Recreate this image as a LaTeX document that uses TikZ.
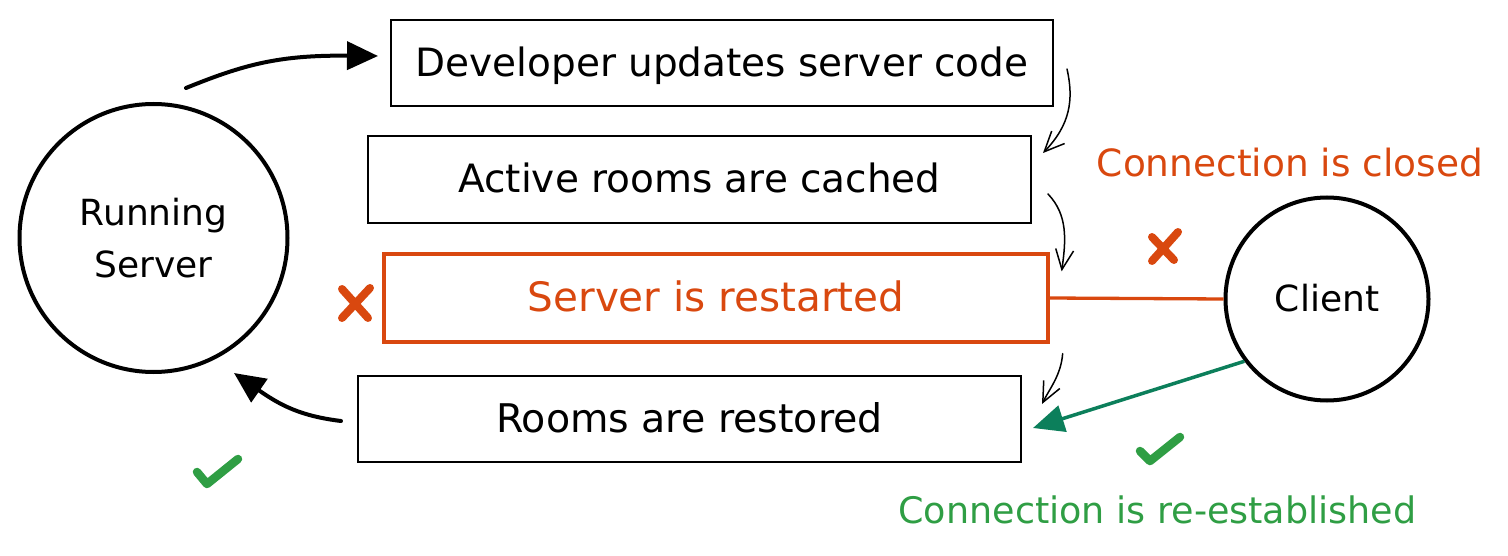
\documentclass[tikz,border=0pt]{standalone}
\usepackage{fontspec}
\setmainfont{DejaVu Sans}
\usetikzlibrary{arrows.meta,calc}
\definecolor{xorange}{HTML}{D9480F}
\definecolor{xgreen}{HTML}{2F9E44}
\definecolor{xteal}{HTML}{0C7F5B}
\newcommand{\fsz}[1]{\fontsize{#1}{52}\selectfont}
\begin{document}
\begin{tikzpicture}[x=1pt,y=-1pt,
  lbl/.style={font=\fsz{37}, inner sep=0pt},
  box/.style={lbl, draw, line width=2pt, rectangle, text height=27pt, text depth=0pt},
  circ/.style={lbl, draw, line width=4pt, circle, align=center},
  bigarrow/.style={line width=4pt, line cap=round, -{Triangle[length=31pt,width=28pt]}},
  thinarrow/.style={line width=1.5pt, line cap=round, -{Straight Barb[length=20pt,width=18pt]}},
  tealarrow/.style={xteal, line width=3.5pt, -{Triangle[length=31pt,width=27pt]}},
  xmark/.style={xorange, line width=8pt, line cap=round},
  checkmark/.style={xgreen, line width=8.5pt, line cap=round, line join=round}]
\useasboundingbox (0,0) rectangle (1508,556);

% boxes
\node[box, font=\fsz{39}, minimum width=662pt, minimum height=86pt] (b1) at (722,63) {Developer updates server code};
\node[box, font=\fsz{39}, minimum width=663pt, minimum height=87pt] (b2) at (699.5,179.5) {Active rooms are cached};
\node[box, font=\fsz{40.5}, draw=xorange, text=xorange, line width=3.3pt, minimum width=664pt, minimum height=88pt] (b3) at (716,298) {Server is restarted};
\node[box, font=\fsz{39.5}, minimum width=663pt, minimum height=86pt] (b4) at (689.5,419) {Rooms are restored};

% circles
\node[circ, font=\fsz{36}, minimum size=268pt] (rs) at (153.5,238) {Running\\Server};
\node[circ, font=\fsz{36}, minimum size=203pt, text height=26pt, text depth=0pt] (cl) at (1327,299) {Client};

% free labels
\node[lbl, font=\fsz{37.5}, text=xorange, anchor=base] (lclosed) at (1290,177) {Connection is closed};
\node[lbl, font=\fsz{36.5}, text=xgreen, anchor=base] (lreest) at (1157.5,523) {Connection is re-established};

% big arrows
\draw[bigarrow] ($(rs.center)+(32.5,-150)$) .. controls (245,64) and (280,55) .. ($(b1.west)+(-12,-7)$);
\draw[bigarrow] ($(b4.west)+(-16,2)$) .. controls (300,416) and (280,405) .. ($(rs.center)+(80.5,135)$);

% thin arrows
\draw[thinarrow] ($(b1.east)+(13,6)$) .. controls (1074,100) and (1070,125) .. ($(b2.north east)+(11,18)$);
\draw[thinarrow] ($(b2.east)+(16,14.5)$) .. controls (1068,215) and (1066,240) .. ($(b3.north east)+(12,19)$);
\draw[thinarrow] ($(b3.south east)+(13,10)$) .. controls (1061,375) and (1050,388) .. ($(b4.north east)+(20,29)$);

% client connections
\draw[xorange, line width=3.3pt] (b3.east) -- (cl.west);
\draw[tealarrow] (cl.217) -- ($(b4.east)+(11,9)$);

% marks
\draw[xmark] (342,289) -- (368,318) (370,288) -- (342,318);
\draw[xmark] (1152,237) -- (1174,260) (1178,232) -- (1152,261);
\draw[checkmark] (197,472) -- (207,484) -- (238,459);
\draw[checkmark] (1140,451) -- (1150,461) -- (1180,437);
\end{tikzpicture}
\end{document}
